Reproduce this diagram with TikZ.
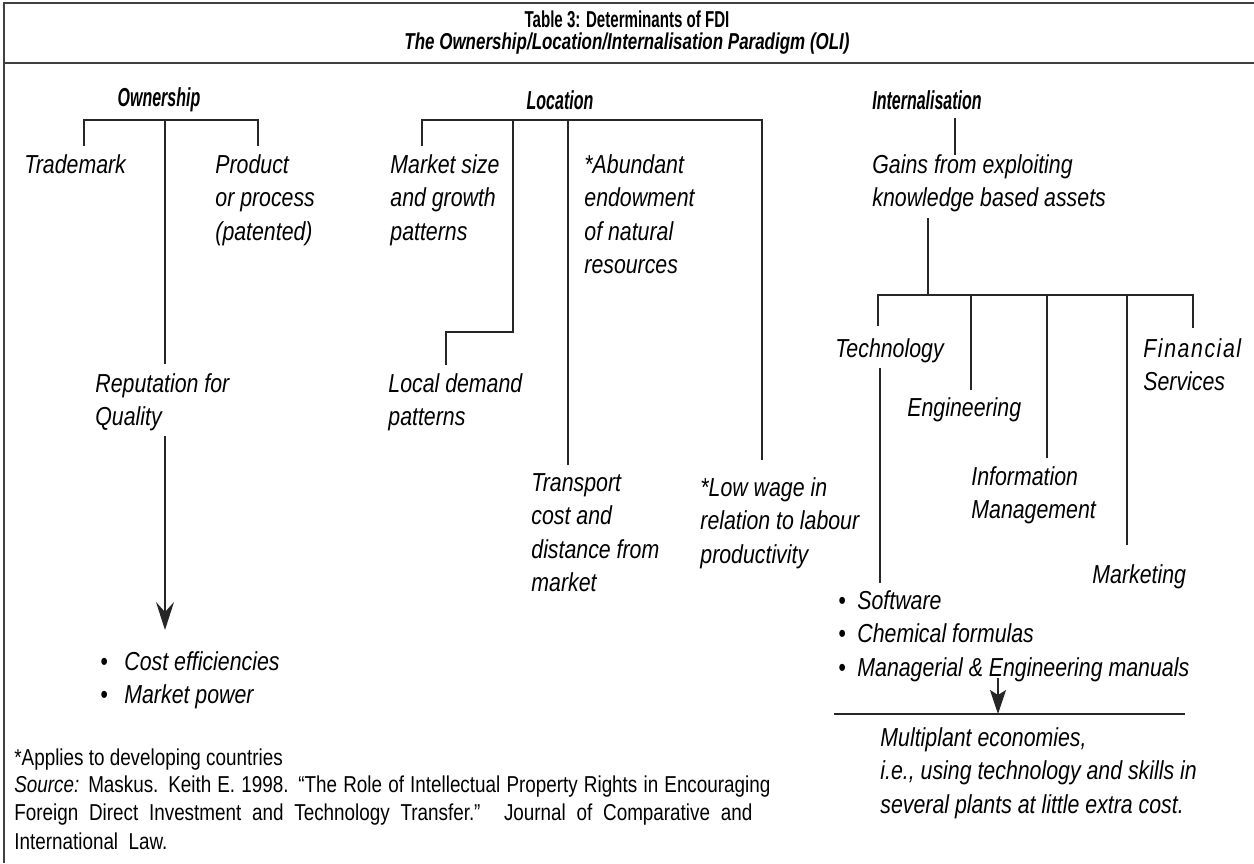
\documentclass[tikz,border=0pt]{standalone}
\usepackage{fontspec}
\setmainfont{Liberation Sans}[FakeStretch=0.82]
\usetikzlibrary{arrows.meta}
\begin{document}
\begin{tikzpicture}[x=0.5pt,y=-0.5pt,
  txt/.style={font=\fontsize{13}{16.75}\selectfont\itshape, inner sep=0pt, anchor=north west, align=left},
  head/.style={font=\fontsize{13}{15}\selectfont\bfseries\itshape, inner sep=0pt},
  ttl/.style={font=\fontsize{11.5}{13}\selectfont\bfseries, inner sep=0pt},
  foot/.style={font=\fontsize{11.5}{13.5}\selectfont, inner sep=0pt, anchor=west},
  ln/.style={line width=0.75pt, draw=black!85},
  arr/.style={line width=0.75pt, draw=black!85, -{Stealth[length=14pt,width=9pt,inset=5pt]}},
  arrs/.style={line width=0.75pt, draw=black!85, -{Stealth[length=12pt,width=8pt,inset=2.5pt]}},
  frame/.style={line width=1.2pt, draw=black!75}]
\useasboundingbox (0,0) rectangle (1254,863);

% frame
\coordinate (fTR) at (1254,3);
\coordinate (fTL) at (4,3);
\coordinate (fBL) at (4,863);
\coordinate (sL) at (4,63);
\coordinate (sR) at (1254,63);
\draw[frame] (fTR) -- (fTL) -- (fBL);
\draw[frame] (sL) -- (sR);

% title
\node[ttl] (t1) at (627,19) {\scalebox{0.8}[1]{Table 3: Determinants of FDI}};
\node[ttl, font=\fontsize{11.5}{13}\selectfont\bfseries\itshape] (t2) at (627,44) {\scalebox{0.9}[1]{The Ownership/Location/Internalisation Paradigm (OLI)}};

% headings
\node[head] (own) at (159,100) {\scalebox{0.75}[1]{Ownership}};
\node[head] (loc) at (560,100) {\scalebox{0.75}[1]{Location}};
\node[head, anchor=west] (int) at (872,100) {\scalebox{0.75}[1]{Internalisation}};

% ---------- Ownership ----------
\node[txt] (trade) at (24,154) {Trademark};
\node[txt] (prod) at (215,154) {Product\\or process\\(patented)};
\node[txt] (rep) at (95,373) {Reputation for\\Quality};
\node[txt] (ob) at (100,651) {\makebox[12pt][l]{\textbullet}Cost efficiencies\\\makebox[12pt][l]{\textbullet}Market power};

\coordinate (o1) at (84,120);
\coordinate (o2) at (165,120);
\coordinate (o3) at (258,120);
\coordinate (o1e) at (84,146);
\coordinate (o2e) at (165,364);
\coordinate (o3e) at (258,146);
\draw[ln] (o1e) -- (o1) -- (o3) -- (o3e);
\draw[ln] (o2) -- (o2e);
\coordinate (oa1) at (165,436);
\coordinate (oa2) at (165,630);
\draw[arr] (oa1) -- (oa2);

% ---------- Location ----------
\node[txt] (mkt) at (390,154) {Market size\\and growth\\patterns};
\node[txt] (abund) at (584,154) {*Abundant\\endowment\\of natural\\resources};
\node[txt] (local) at (388,373) {Local demand\\patterns};
\node[txt] (trans) at (531,473) {Transport\\cost and\\distance from\\market};
\node[txt] (wage) at (700,477) {*Low wage in\\relation to labour\\productivity};

\coordinate (l1) at (422,120);
\coordinate (l2) at (513,120);
\coordinate (l3) at (568,120);
\coordinate (l4) at (762,120);
\coordinate (l1e) at (422,146);
\coordinate (l2k) at (513,332);
\coordinate (l2j) at (446,332);
\coordinate (l2e) at (446,365);
\coordinate (l3e) at (568,465);
\coordinate (l4e) at (762,460);
\draw[ln] (l1e) -- (l1) -- (l4) -- (l4e);
\draw[ln] (l2) -- (l2k) -- (l2j) -- (l2e);
\draw[ln] (l3) -- (l3e);

% ---------- Internalisation ----------
\node[txt] (gains) at (872,154) {Gains from exploiting\\knowledge based assets};
\node[txt] (tech) at (835,338) {Technology};
\node[txt] (eng) at (907,397) {Engineering};
\node[txt] (info) at (971,466) {Information\\Management};
\node[txt] (fin) at (1143,338) {{\addfontfeature{LetterSpace=6}Financial}\\Services};
\node[txt] (mktg) at (1092,564) {Marketing};
\node[txt] (ib) at (838,590) {\makebox[9.5pt][l]{\textbullet}Software\\\makebox[9.5pt][l]{\textbullet}Chemical formulas\\\makebox[9.5pt][l]{\textbullet}Managerial \& Engineering manuals};
\node[txt] (multi) at (880,727) {Multiplant economies,\\i.e., using technology and skills in\\several plants at little extra cost.};

\coordinate (i0a) at (955,118);
\coordinate (i0b) at (955,155);
\draw[ln] (i0a) -- (i0b);
\coordinate (gA) at (928,218);
\coordinate (gB) at (928,295);
\draw[ln] (gA) -- (gB);
\coordinate (i1) at (878,295);
\coordinate (i2) at (971,295);
\coordinate (i3) at (1047,295);
\coordinate (i4) at (1127,295);
\coordinate (i5) at (1193,295);
\coordinate (i1e) at (878,326);
\coordinate (i2e) at (971,390);
\coordinate (i3e) at (1047,458);
\coordinate (i4e) at (1127,545);
\coordinate (i5e) at (1193,328);
\draw[ln] (i1e) -- (i1) -- (i5) -- (i5e);
\draw[ln] (i2) -- (i2e);
\draw[ln] (i3) -- (i3e);
\draw[ln] (i4) -- (i4e);
\coordinate (tA) at (880,368);
\coordinate (tB) at (880,583);
\draw[ln] (tA) -- (tB);
\coordinate (ia1) at (998,678);
\coordinate (ia2) at (998,714);
\draw[arrs] (ia1) -- (ia2);
\coordinate (h1) at (834,714);
\coordinate (h2) at (1185,714);
\draw[ln] (h1) -- (h2);

% ---------- footnotes ----------
\node[foot] (f0) at (14,760) {*Applies to developing countries};
\node[foot] (f1) at (14,787) {\makebox[378pt][s]{\textit{Source:} Maskus. Keith E. 1998. “The Role of Intellectual Property Rights in Encouraging}};
\node[foot] (f2) at (14,815) {\makebox[369pt][s]{Foreign Direct Investment and Technology Transfer.” Journal of Comparative and}};
\node[foot] (f3) at (14,841) {International\ \ Law.};
\end{tikzpicture}
\end{document}
